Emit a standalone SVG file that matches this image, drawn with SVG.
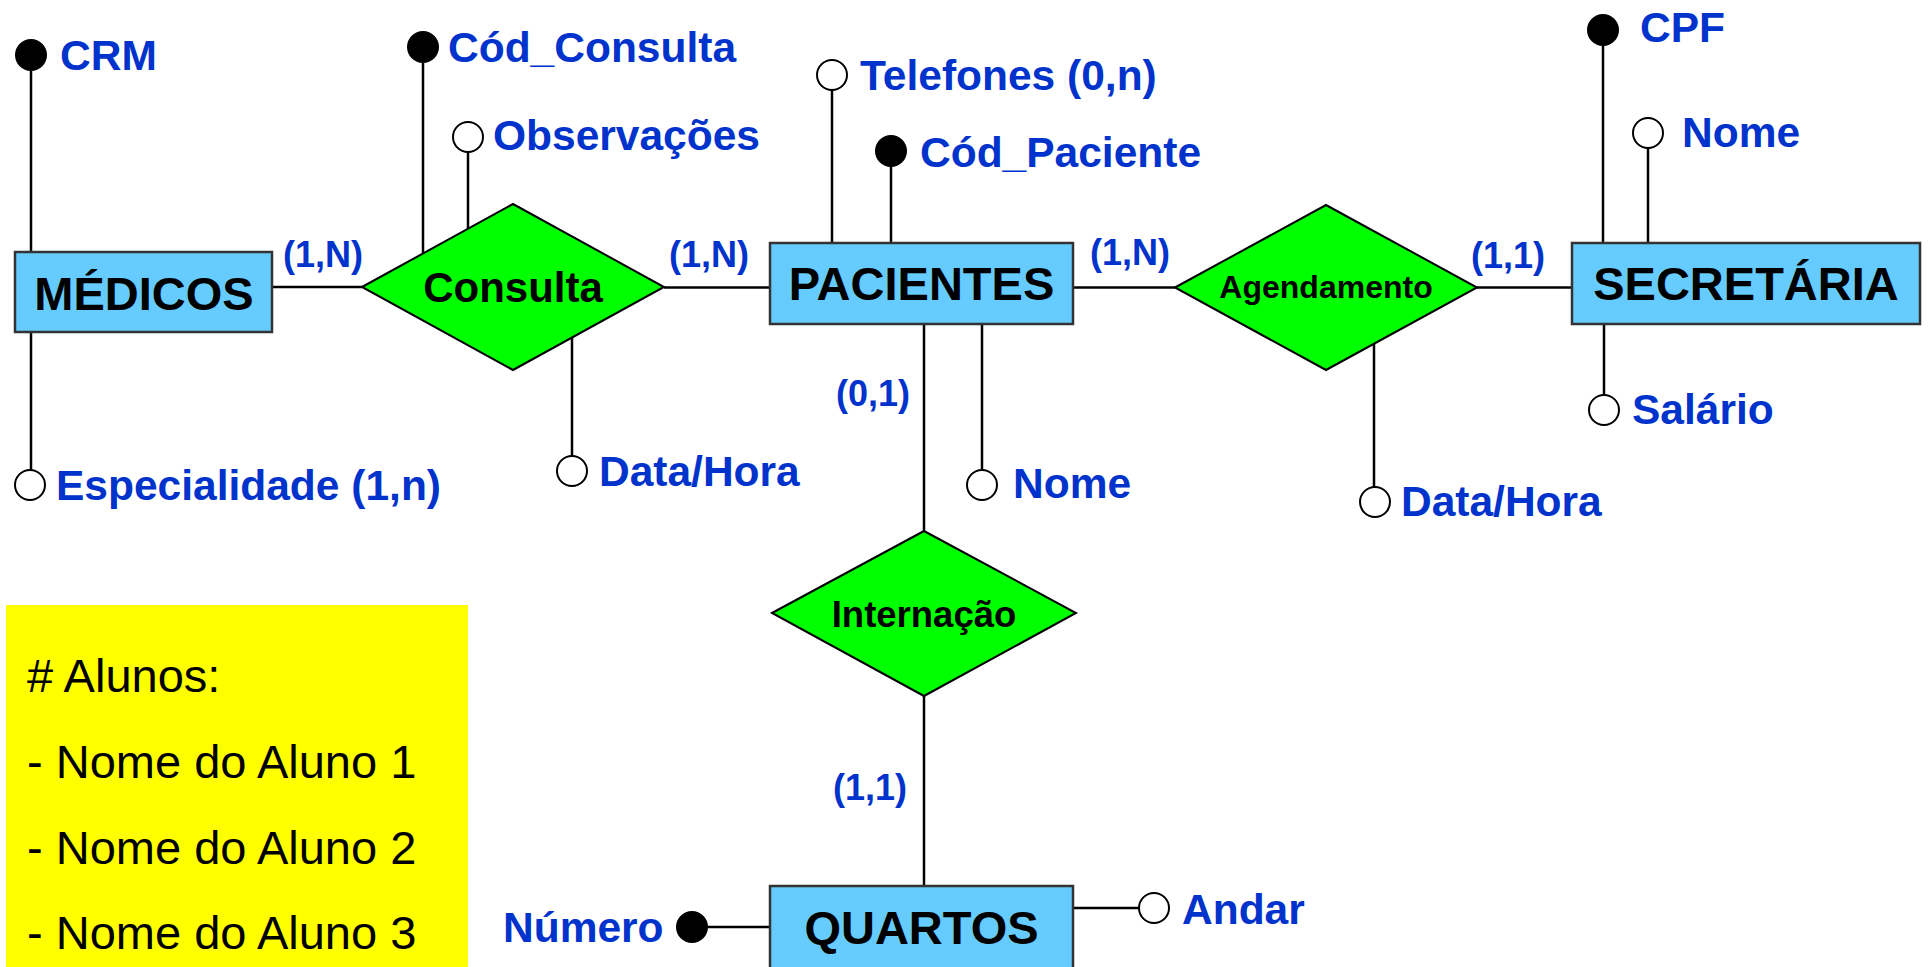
<svg xmlns="http://www.w3.org/2000/svg" width="1930" height="967" viewBox="0 0 1930 967">
<style>
.ent{fill:#66ccff;stroke:#333333;stroke-width:2.5}
.rel{fill:#00ff00;stroke:#000000;stroke-width:2}
.et{font-family:"Liberation Sans",Arial,sans-serif;font-weight:bold;font-size:47px;fill:#000000;text-anchor:middle}
.rt{font-family:"Liberation Sans",Arial,sans-serif;font-weight:bold;fill:#000000;text-anchor:middle}
.at{font-family:"Liberation Sans",Arial,sans-serif;font-weight:bold;font-size:42.5px;fill:#0033cc}
.ct{font-family:"Liberation Sans",Arial,sans-serif;font-weight:bold;font-size:36px;fill:#0033cc}
.ln{stroke:#000000;stroke-width:2.5;fill:none}
.key{fill:#000000;stroke:#000000;stroke-width:2}
.opt{fill:#ffffff;stroke:#000000;stroke-width:2}
.nt{font-family:"Liberation Sans",Arial,sans-serif;font-size:47px;fill:#000000}
</style>
<rect width="1930" height="967" fill="#ffffff"/>
<g id="connectors">
<line class="ln" x1="31" y1="55" x2="31" y2="252"/>
<line class="ln" x1="31" y1="332" x2="31" y2="470"/>
<line class="ln" x1="272" y1="287" x2="362" y2="287"/>
<line class="ln" x1="423" y1="47" x2="423" y2="255"/>
<line class="ln" x1="468" y1="152" x2="468" y2="229"/>
<line class="ln" x1="572" y1="338" x2="572" y2="456"/>
<line class="ln" x1="664" y1="287.5" x2="770" y2="287.5"/>
<line class="ln" x1="832" y1="90" x2="832" y2="243"/>
<line class="ln" x1="891" y1="151" x2="891" y2="243"/>
<line class="ln" x1="1073" y1="287.5" x2="1175" y2="287.5"/>
<line class="ln" x1="924" y1="324" x2="924" y2="531"/>
<line class="ln" x1="982" y1="324" x2="982" y2="470"/>
<line class="ln" x1="924" y1="696" x2="924" y2="886"/>
<line class="ln" x1="692" y1="927" x2="770" y2="927"/>
<line class="ln" x1="1073" y1="908" x2="1139" y2="908"/>
<line class="ln" x1="1477" y1="287.5" x2="1572" y2="287.5"/>
<line class="ln" x1="1374" y1="344" x2="1374" y2="487"/>
<line class="ln" x1="1603" y1="30" x2="1603" y2="243"/>
<line class="ln" x1="1648" y1="148" x2="1648" y2="243"/>
<line class="ln" x1="1604" y1="324" x2="1604" y2="395"/>
</g>
<g id="medicos">
<rect class="ent" x="15" y="252" width="257" height="80"/>
<text class="et" x="144" y="310">MÉDICOS</text>
</g>
<g id="attr-crm">
<circle class="key" cx="31" cy="55" r="15"/>
<text class="at" x="60" y="70">CRM</text>
</g>
<g id="attr-especialidade">
<circle class="opt" cx="30" cy="485" r="15"/>
<text class="at" x="56" y="500">Especialidade (1,n)</text>
</g>
<g id="consulta">
<polygon class="rel" points="362,287 513,204 664,287 513,370"/>
<text class="rt" x="513" y="302" font-size="42">Consulta</text>
</g>
<g id="attr-cod-consulta">
<circle class="key" cx="423" cy="47" r="15"/>
<text class="at" x="448" y="62">Cód_Consulta</text>
</g>
<g id="attr-observacoes">
<circle class="opt" cx="468" cy="137" r="15"/>
<text class="at" x="493" y="150">Observações</text>
</g>
<g id="attr-data-consulta">
<circle class="opt" cx="572" cy="471" r="15"/>
<text class="at" x="599" y="486">Data/Hora</text>
</g>
<g id="pacientes">
<rect class="ent" x="770" y="243" width="303" height="81"/>
<text class="et" x="921.5" y="300">PACIENTES</text>
</g>
<g id="attr-telefones">
<circle class="opt" cx="832" cy="75" r="15"/>
<text class="at" x="860" y="90">Telefones (0,n)</text>
</g>
<g id="attr-cod-paciente">
<circle class="key" cx="891" cy="151" r="15"/>
<text class="at" x="920" y="167">Cód_Paciente</text>
</g>
<g id="attr-nome-paciente">
<circle class="opt" cx="982" cy="485" r="15"/>
<text class="at" x="1013" y="498">Nome</text>
</g>
<g id="agendamento">
<polygon class="rel" points="1175,287.5 1326,205 1477,287.5 1326,370"/>
<text class="rt" x="1326" y="298" font-size="32">Agendamento</text>
</g>
<g id="attr-data-agendamento">
<circle class="opt" cx="1375" cy="502" r="15"/>
<text class="at" x="1401" y="516">Data/Hora</text>
</g>
<g id="secretaria">
<rect class="ent" x="1572" y="243" width="348" height="81"/>
<text class="et" x="1746" y="300">SECRETÁRIA</text>
</g>
<g id="attr-cpf">
<circle class="key" cx="1603" cy="30" r="15"/>
<text class="at" x="1640" y="42">CPF</text>
</g>
<g id="attr-nome-secretaria">
<circle class="opt" cx="1648" cy="133" r="15"/>
<text class="at" x="1682" y="147">Nome</text>
</g>
<g id="attr-salario">
<circle class="opt" cx="1604" cy="410" r="15"/>
<text class="at" x="1632" y="424">Salário</text>
</g>
<g id="internacao">
<polygon class="rel" points="772,613 924,531 1076,613 924,696"/>
<text class="rt" x="924" y="627" font-size="36.5">Internação</text>
</g>
<g id="quartos">
<rect class="ent" x="770" y="886" width="303" height="95"/>
<text class="et" x="921.5" y="944">QUARTOS</text>
</g>
<g id="attr-numero">
<circle class="key" cx="692" cy="927" r="15"/>
<text class="at" x="503" y="942">Número</text>
</g>
<g id="attr-andar">
<circle class="opt" cx="1154" cy="908" r="15"/>
<text class="at" x="1182" y="924">Andar</text>
</g>
<g id="cardinalities">
<text class="ct" x="283" y="267">(1,N)</text>
<text class="ct" x="669" y="267">(1,N)</text>
<text class="ct" x="1090" y="265">(1,N)</text>
<text class="ct" x="1471" y="268">(1,1)</text>
<text class="ct" x="836" y="406">(0,1)</text>
<text class="ct" x="833" y="800">(1,1)</text>
</g>
<g id="note">
<rect x="6" y="605" width="462" height="370" fill="#ffff00"/>
<text class="nt" x="27" y="692"># Alunos:</text>
<text class="nt" x="27" y="778">- Nome do Aluno 1</text>
<text class="nt" x="27" y="864">- Nome do Aluno 2</text>
<text class="nt" x="27" y="949">- Nome do Aluno 3</text>
</g>
</svg>
